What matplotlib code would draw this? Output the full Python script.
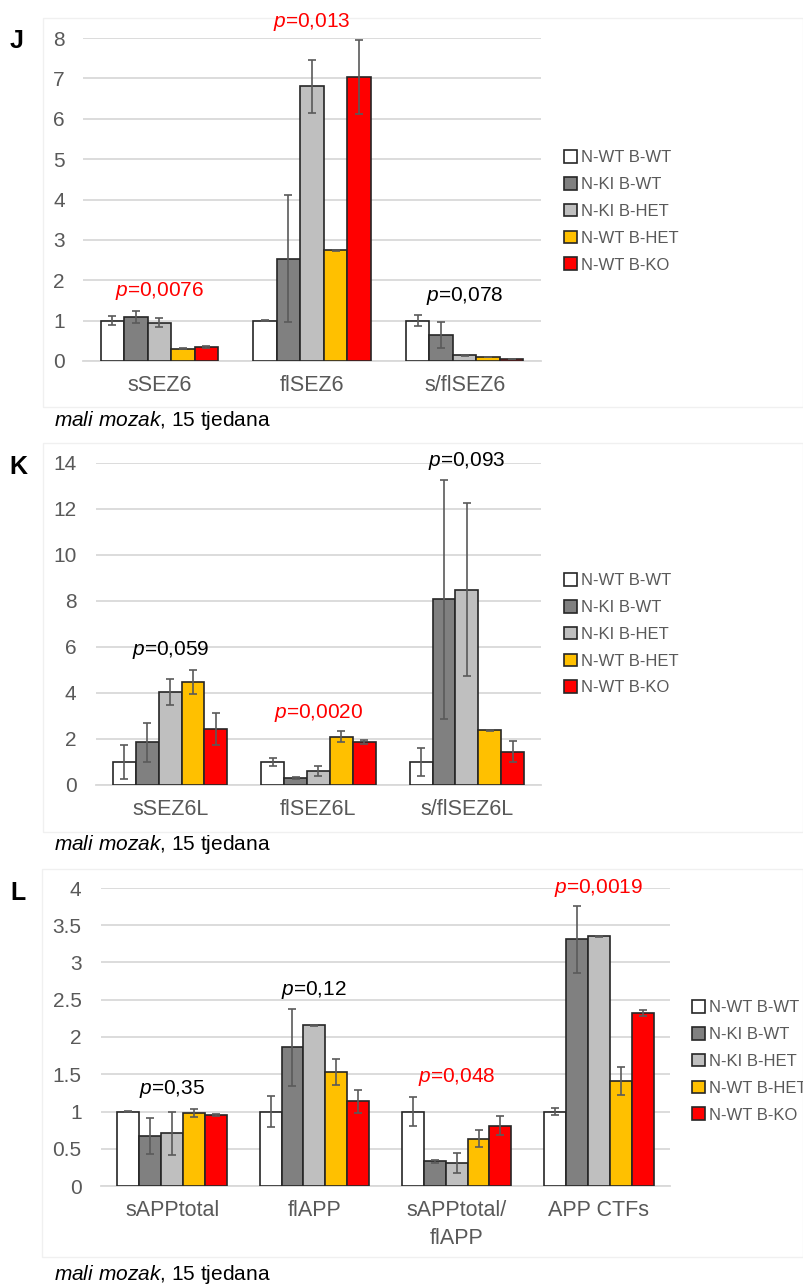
import numpy as np
import matplotlib.pyplot as plt
import matplotlib.patches as mpatches
from matplotlib.ticker import FormatStrFormatter

plt.rcParams['font.family'] = ['Liberation Sans', 'DejaVu Sans']
plt.rcParams['mathtext.fontset'] = 'custom'
plt.rcParams['mathtext.rm'] = 'Liberation Sans'
plt.rcParams['mathtext.it'] = 'Liberation Sans:italic'

series = ['N-WT B-WT', 'N-KI B-WT', 'N-KI B-HET', 'N-WT B-HET', 'N-WT B-KO']
colors = ['#ffffff', '#808080', '#bfbfbf', '#ffc000', '#ff0000']

# panel J
j_groups = ['sSEZ6', 'flSEZ6', 's/flSEZ6']
j_vals = [[1.00, 1.00, 1.00],
          [1.09, 2.53, 0.64],
          [0.95, 6.80, 0.14],
          [0.30, 2.74, 0.10],
          [0.34, 7.03, 0.05]]
j_err = [[0.12, 0.02, 0.14],
         [0.16, 1.57, 0.33],
         [0.12, 0.66, 0.02],
         [0.01, 0.01, 0.01],
         [0.03, 0.92, 0.01]]
j_p = ['0,0076', '0,013', '0,078']
j_p_y = [1.73, 8.4, 1.61]
j_p_red = [True, True, False]

# panel K
k_groups = ['sSEZ6L', 'flSEZ6L', 's/flSEZ6L']
k_vals = [[1.00, 1.00, 1.00],
          [1.85, 0.29, 8.08],
          [4.05, 0.61, 8.50],
          [4.47, 2.10, 2.37],
          [2.42, 1.87, 1.45]]
k_err = [[0.72, 0.18, 0.62],
         [0.86, 0.05, 5.20],
         [0.58, 0.20, 3.75],
         [0.52, 0.24, 0.03],
         [0.69, 0.08, 0.45]]
k_p = ['0,059', '0,0020', '0,093']
k_p_y = [5.86, 3.11, 14.1]
k_p_red = [False, True, False]

# panel L
l_groups = ['sAPPtotal', 'flAPP', 'sAPPtotal/\nflAPP', 'APP CTFs']
l_vals = [[1.00, 1.00, 1.00, 1.00],
          [0.67, 1.86, 0.33, 3.31],
          [0.71, 2.155, 0.31, 3.35],
          [0.98, 1.53, 0.635, 1.41],
          [0.95, 1.135, 0.81, 2.32]]
l_err = [[0.01, 0.21, 0.20, 0.05],
         [0.245, 0.52, 0.02, 0.45],
         [0.29, 0.005, 0.13, 0.005],
         [0.06, 0.18, 0.11, 0.19],
         [0.01, 0.16, 0.125, 0.04]]
l_p = ['0,35', '0,12', '0,048', '0,0019']
l_p_y = [1.30, 2.63, 1.46, 4.0]
l_p_red = [False, False, True, True]

W, H = 804, 1288
fig = plt.figure(figsize=(W / 100, H / 100), dpi=100)

grey = '#595959'


def fx(px):
    return px / W


def fy(py):
    return 1 - py / H


def panel(rect, groups, vals, err, ymax, ystep, pvals, py, pred, letter,
          letter_pos, caption_y, leg_pos, frame, ypad):
    # faint chart-area frame, drawn first so it stays underneath
    fr = mpatches.Rectangle((fx(frame[0]), fy(frame[3])),
                            fx(frame[2] - frame[0]), fy(frame[1]) - fy(frame[3]),
                            transform=fig.transFigure, fill=False,
                            edgecolor='#f0f0f0', linewidth=1.0, zorder=-1)
    fig.patches.append(fr)

    ax = fig.add_axes(rect)
    ax.patch.set_alpha(0)
    x = np.arange(len(groups))
    bw = 0.154
    for i in range(len(series)):
        ax.bar(x + (i - 2) * bw, vals[i], bw, color=colors[i],
               edgecolor='#262626', linewidth=1.2, label=series[i], zorder=3)
        ax.errorbar(x + (i - 2) * bw, vals[i], yerr=err[i], fmt='none',
                    ecolor='#5a5a5a', elinewidth=1.2, capsize=3, capthick=1.2,
                    zorder=4)
    ax.set_xlim(-0.5, len(groups) - 0.5)
    ax.set_ylim(0, ymax)
    ax.set_yticks(np.arange(0, ymax + ystep / 2, ystep))
    ax.yaxis.set_major_formatter(FormatStrFormatter('%g'))
    ax.set_xticks(x)
    ax.set_xticklabels(groups, linespacing=1.45)
    ax.tick_params(axis='y', length=0, pad=ypad, labelsize=15, labelcolor=grey)
    ax.tick_params(axis='x', length=0, pad=10, labelsize=15.5, labelcolor=grey)
    ax.grid(axis='y', color='#d9d9d9', linewidth=1.3, zorder=0)
    for s in ['top', 'right', 'left']:
        ax.spines[s].set_visible(False)
    ax.spines['bottom'].set_color('#d9d9d9')
    ax.spines['bottom'].set_linewidth(1.3)
    for xi, lab, yv, red in zip(x, pvals, py, pred):
        ax.text(xi, yv, r'$\it{p}$=' + lab, ha='center', va='center',
                fontsize=15, color='#ff0000' if red else 'black',
                clip_on=False, zorder=5)
    fig.text(fx(letter_pos[0]), fy(letter_pos[1]), letter, fontsize=18,
             fontweight='bold', ha='center', va='center')
    fig.text(fx(54), fy(caption_y), r'$\it{mali\ mozak}$, 15 tjedana',
             fontsize=15, ha='left', va='center')
    handles = [mpatches.Patch(facecolor=c, edgecolor='#262626', linewidth=1.2)
               for c in colors]
    fig.legend(handles, series, loc='upper left',
               bbox_to_anchor=(fx(leg_pos[0]), fy(leg_pos[1])),
               frameon=False, fontsize=12, labelcolor=grey,
               handlelength=0.8, handleheight=0.8, handletextpad=0.2,
               labelspacing=0.7, borderpad=0, borderaxespad=0)
    return ax


panel([fx(83), fy(361), fx(541 - 83), fy(38) - fy(361)], j_groups, j_vals, j_err,
      8, 1, j_p, j_p_y, j_p_red, 'J', (17, 41), 420, (564, 150),
      (43, 18, 803, 407), 13)
panel([fx(96), fy(785), fx(541 - 96), fy(463) - fy(785)], k_groups, k_vals, k_err,
      14, 2, k_p, k_p_y, k_p_red, 'K', (18, 467), 845, (564, 573),
      (43, 443, 803, 832), 14)
panel([fx(101), fy(1186), fx(670 - 101), fy(888) - fy(1186)], l_groups, l_vals, l_err,
      4, 0.5, l_p, l_p_y, l_p_red, 'L', (18, 893), 1275, (692, 1000),
      (42, 869, 803, 1257), 14)

fig.savefig('out.png', dpi=100, facecolor='white')
